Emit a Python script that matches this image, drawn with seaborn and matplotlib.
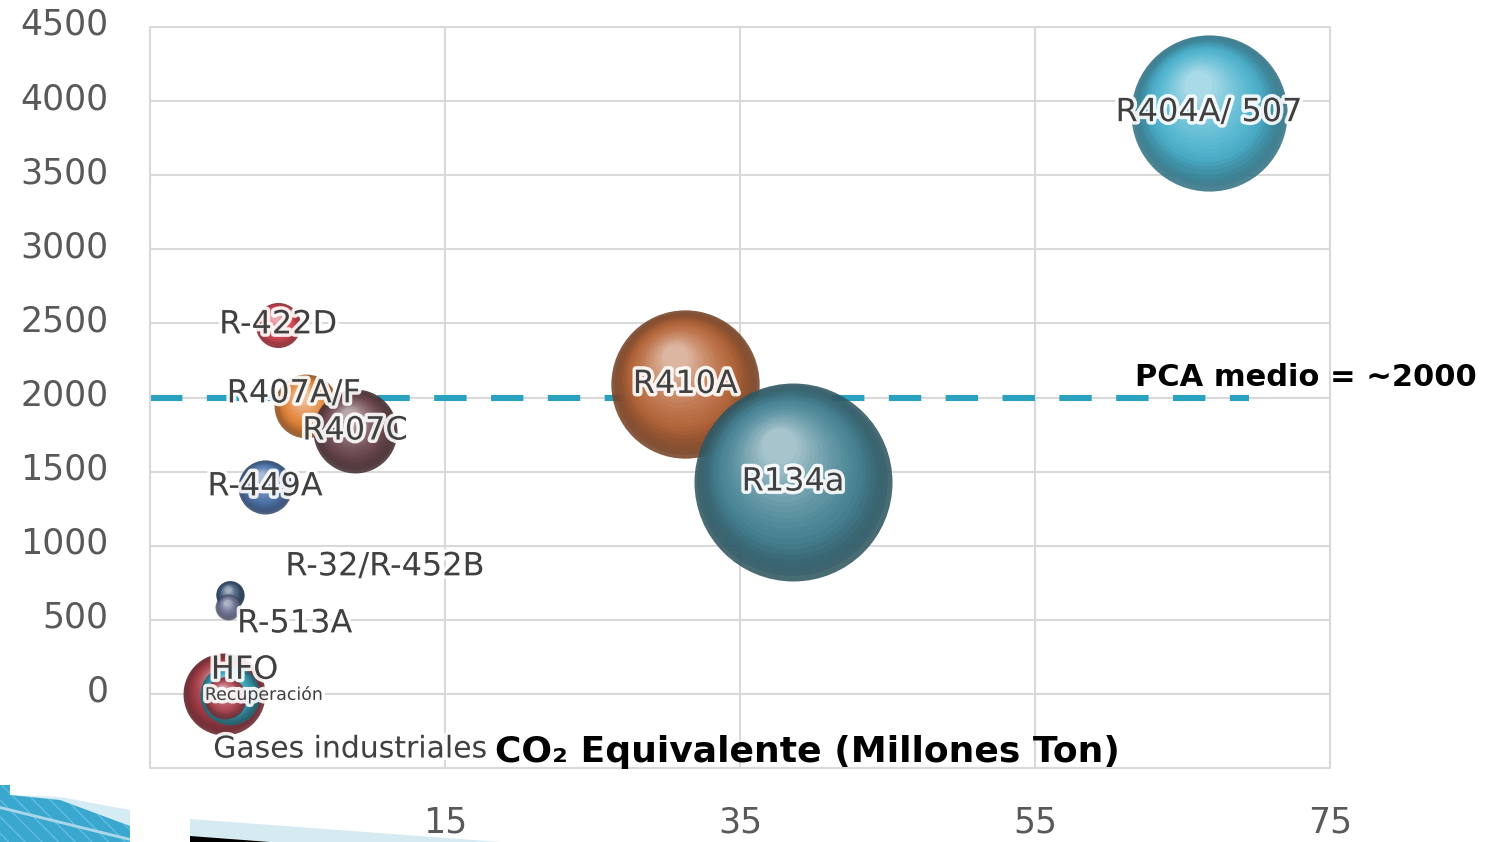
import numpy as np
import pandas as pd
import matplotlib
matplotlib.use("Agg")
import matplotlib.pyplot as plt
import matplotlib.transforms as mtransforms
import matplotlib.colors as mcolors
from matplotlib.patches import Polygon
from matplotlib import patheffects as pe
import seaborn as sns

# ---- data ----------------------------------------------------------------
refrigerantes = ["R404A/ 507", "R410A", "R134a", "R-422D", "R407A/F", "R407C",
                 "R-449A", "R-32/R-452B", "R-513A", "HFO", "Recuperación",
                 "Gases industriales"]
co2_equivalente = [66.8, 31.3, 38.6, 3.7, 5.6, 8.9, 2.8, 0.4, 0.3, 0.0, 0.4, 0.1]
pca = [3922, 2088, 1430, 2490, 1940, 1774, 1397, 670, 585, 0, -5, -25]
volumen = [61.0, 55.0, 98.0, 5.1, 10.2, 17.6, 7.3, 2.0, 1.7, 16.8, 9.0, 4.4]
colores = ["#4fb4d0", "#b8683c", "#4a8698", "#d64a55", "#e3843a", "#6f4b51",
           "#5076ad", "#3d5576", "#6b7294", "#a33d47", "#3b9fb4", "#b24b56"]

pca_medio = 2000
pca_medio_texto = "PCA medio = ~2000"
x_titulo = "CO₂ Equivalente (Millones Ton)"
x_ticks = [-5, 15, 35, 55, 75]
x_tick_labels = ["", "15", "35", "55", "75"]
y_ticks = [-500, 0, 500, 1000, 1500, 2000, 2500, 3000, 3500, 4000, 4500]
y_tick_labels = ["", "0", "500", "1000", "1500", "2000", "2500", "3000",
                 "3500", "4000", "4500"]

df = pd.DataFrame({"refrigerante": refrigerantes, "co2": co2_equivalente,
                   "pca": pca, "volumen": volumen})

# ---- layout / style --------------------------------------------------------
W, H, DPI = 1498, 842, 100
AREA_PER_UNIT = 207.36          # marker area (pt^2) per unit of volumen
VMAX = max(volumen)
label_offset = {                # text offsets from bubble centre, in points
    "R407A/F": (-9, 9), "R-32/R-452B": (112, 20), "R-513A": (48, -12),
    "HFO": (15, 17), "Recuperación": (25, 0), "Gases industriales": (90, -37),
}
label_size = {"Recuperación": 12.5, "Gases industriales": 21.5}

sns.set_theme(style="whitegrid")
plt.rcParams["font.family"] = ["DejaVu Sans"]

fig = plt.figure(figsize=(W / DPI, H / DPI), dpi=DPI)
ax = fig.add_axes([150 / W, 1 - 768 / H, 1180 / W, 741 / H])
ax.set_xlim(-5, 75)
ax.set_ylim(-500, 4500)
ax.set_axisbelow(True)
ax.grid(True, color="#d9d9d9", linewidth=1.5)
for sp in ax.spines.values():
    sp.set_color("#d9d9d9")
    sp.set_linewidth(1.5)

# average reference line
ax.axhline(pca_medio, xmin=0, xmax=(69.5 + 5) / 80, color="#2aa1bf",
           linewidth=4.4, dashes=(5.3, 4.0), zorder=0.8)


def mix(c1, c2, t):
    a, b = np.array(mcolors.to_rgb(c1)), np.array(mcolors.to_rgb(c2))
    return tuple(a + (b - a) * t)


# ---- bubbles, drawn as shaded spheres ------------------------------------
n_layers = 22
for i, row in df.iterrows():
    base = colores[i]
    rim = mix(base, "black", 0.36)
    hi = mix(base, "white", 0.58)
    alpha = 0.62 if row["refrigerante"] == "R-513A" else 0.88
    sns.scatterplot(data=df.iloc[[i]], x="co2", y="pca", size="volumen",
                    sizes=(0, AREA_PER_UNIT * VMAX), size_norm=(0, VMAX),
                    color=rim, alpha=alpha, linewidth=0, legend=False, ax=ax)
    s_full = AREA_PER_UNIT * row["volumen"]
    r_pt = np.sqrt(s_full) / 2
    for k in range(1, n_layers + 1):
        t = k / n_layers
        f = 1 - 0.82 * t
        if t < 0.3:
            col = mix(rim, base, t / 0.3)
        else:
            col = mix(base, hi, ((t - 0.3) / 0.7) ** 1.3)
        tr = mtransforms.offset_copy(ax.transData, fig=fig,
                                     x=-0.14 * r_pt * t, y=0.36 * r_pt * t,
                                     units="points")
        ax.scatter([row["co2"]], [row["pca"]], s=s_full * f * f, color=col,
                   alpha=0.5 * alpha, linewidth=0, transform=tr)

# ---- axes cosmetics -------------------------------------------------------
ax.set_xticks(x_ticks, x_tick_labels)
ax.set_yticks(y_ticks, y_tick_labels)
ax.tick_params(axis="both", length=0, labelsize=25, labelcolor="#595959")
ax.tick_params(axis="x", pad=27)
ax.tick_params(axis="y", pad=30)
ax.set_xlabel("")
ax.set_ylabel("")
lift = mtransforms.ScaledTranslation(0, 4 / 72, fig.dpi_scale_trans)
for lab in ax.get_yticklabels():
    lab.set_transform(lab.get_transform() + lift)

# ---- bubble labels -------------------------------------------------------
glow = [pe.withStroke(linewidth=5, foreground="white", alpha=0.9)]
for i, row in df.iterrows():
    name = row["refrigerante"]
    dx, dy = label_offset.get(name, (0, 0))
    ax.annotate(name, (row["co2"], row["pca"]), xytext=(dx, dy),
                textcoords="offset points", ha="center", va="center",
                fontsize=label_size.get(name, 23), color="#404040",
                path_effects=glow, zorder=10)

# ---- titles ---------------------------------------------------------------
ax.text(0.557, 0.022, x_titulo, transform=ax.transAxes, ha="center",
        va="center", fontsize=26, fontweight="bold", color="black", zorder=11)
fig.text(1306 / W, 1 - 378 / H, pca_medio_texto, ha="center", va="center",
         fontsize=22, fontweight="bold", color="black")


# ---- slide ornaments at the bottom-left ------------------------------------
def fig_poly(pts, **kw):
    xy = [(x / W, 1 - y / H) for x, y in pts]
    fig.add_artist(Polygon(xy, closed=True, transform=fig.transFigure, **kw))


fig_poly([(0, 785), (10, 785), (10, 795), (60, 797), (130, 810), (130, 842),
          (0, 842)], facecolor="#d6ecf4", linewidth=0)
fig_poly([(0, 785), (10, 785), (10, 795), (60, 800), (130, 826), (130, 842),
          (0, 842)], facecolor="#3aa7cf", edgecolor="#62bde0", hatch="\\\\",
         linewidth=0)
fig_poly([(0, 806), (130, 838), (130, 841), (0, 809)], facecolor="#a9d6e8",
         linewidth=0)
fig_poly([(190, 819), (500, 842), (190, 842)], facecolor="#d6eaf2",
         linewidth=0)
fig_poly([(190, 836), (270, 842), (190, 842)], facecolor="black", linewidth=0)

fig.savefig("out.png", dpi=DPI)
